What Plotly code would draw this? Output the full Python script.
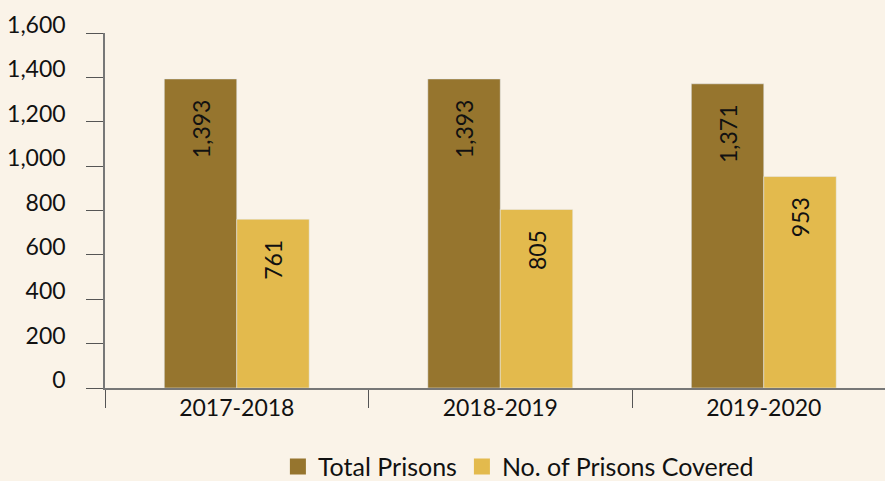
import plotly.graph_objects as go

years = ["2017-2018", "2018-2019", "2019-2020"]
total_prisons = [1393, 1393, 1371]
prisons_covered = [761, 805, 953]
y_ticks = [0, 200, 400, 600, 800, 1000, 1200, 1400, 1600]

BG = "#FAF3E8"
DARK = "#96752E"
LIGHT = "#E3BA4D"
FONT = "Lato, 'Noto Sans', sans-serif"
PAD = "&nbsp;&nbsp;&nbsp;"

fig = go.Figure()
fig.add_trace(go.Bar(
    x=years, y=total_prisons, name="Total Prisons", marker_color=DARK,
    text=[f"{v:,}" + PAD for v in total_prisons], textposition="inside",
    insidetextanchor="end", textangle=-90,
    textfont=dict(size=23, color="#111111", family=FONT), showlegend=False,
))
fig.add_trace(go.Bar(
    x=years, y=prisons_covered, name="No. of Prisons Covered", marker_color=LIGHT,
    text=[f"{v:,}" + PAD for v in prisons_covered], textposition="inside",
    insidetextanchor="end", textangle=-90,
    textfont=dict(size=23, color="#111111", family=FONT), showlegend=False,
))
# legend entries
for nm, col in [("Total Prisons", DARK), ("No. of Prisons Covered", LIGHT)]:
    fig.add_trace(go.Scatter(
        x=[None], y=[None], mode="markers", name=nm,
        marker=dict(symbol="square", size=23, color=col),
    ))

fig.update_layout(
    width=885, height=481,
    paper_bgcolor=BG, plot_bgcolor=BG,
    margin=dict(l=105, r=0, t=33, b=93, autoexpand=False),
    barmode="group", bargap=0.45, bargroupgap=0,
    font=dict(family=FONT, size=23, color="#111111"),
    legend=dict(orientation="h", x=0.53, xanchor="center", y=-0.222, yanchor="middle",
                font=dict(size=25, color="#111111"), itemsizing="trace",
                bgcolor="rgba(0,0,0,0)"),
)
fig.update_xaxes(
    type="category", range=[-0.5, 2.46], showline=True, linecolor="#777777", linewidth=1.5,
    ticks="outside", tickson="boundaries", ticklen=18, tickcolor="#555555", tickwidth=1,
    ticklabelstandoff=-1, showgrid=False, zeroline=False, automargin=False,
    tickfont=dict(size=23, color="#111111"),
)
fig.update_yaxes(
    range=[0, 1600], tickvals=y_ticks, tickformat=",", showline=True, linecolor="#777777",
    linewidth=1.5, ticks="outside", ticklen=17, tickcolor="#555555", tickwidth=1,
    ticklabelstandoff=16, ticklabelshift=-8, showgrid=False, zeroline=False, automargin=False,
    tickfont=dict(size=23, color="#111111"),
)

fig.write_html("out.html", config={"displayModeBar": False},
               post_script="document.body.style.margin='0';document.body.style.padding='0';")
